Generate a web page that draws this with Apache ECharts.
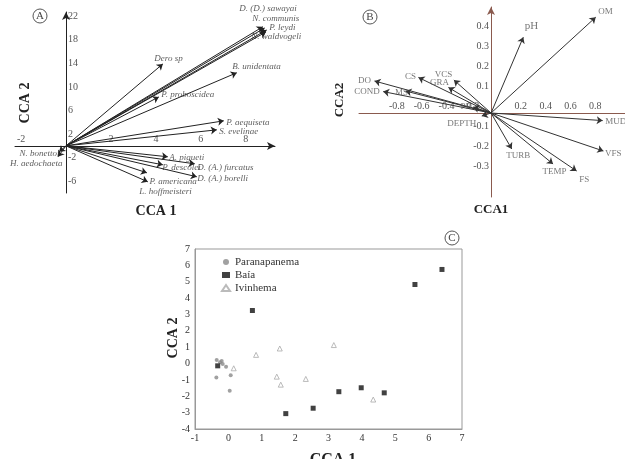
<!DOCTYPE html>
<html>
<head>
<meta charset="utf-8">
<script src="https://cdn.jsdelivr.net/npm/echarts@6/dist/echarts.min.js"></script>
<style>
  html, body { margin: 0; padding: 0; background: #fff; }
  #chart { width: 625px; height: 459px; }
</style>
</head>
<body>
<div id="chart"></div>
<script>
// panel A - species vectors
const speciesNames = ['D. (D.) sawayai', 'N. communis', 'P. leydi', 'N. waldvogeli', 'Dero sp', 'B. unidentata',
  'P. proboscidea', 'P. aequiseta', 'S. evelinae', 'N. bonettoi', 'H. aedochaeta', 'A. pigueti',
  'D. (A.) furcatus', 'P. descolei', 'D. (A.) borelli', 'P. americana', 'L. hoffmeisteri'];
const speciesX = [8.76, 8.84, 8.93, 8.89, 4.31, 7.6, 4.13, 7.02, 6.71, -0.31, -0.36, 4.53, 5.73, 4.31, 5.82, 3.6, 3.64];
const speciesY = [20.2, 20.0, 19.66, 19.3, 13.9, 12.4, 8.3, 4.24, 2.71, -1.02, -1.86, -1.86, -3.05, -3.22, -5.25, -4.58, -6.1];
const speciesTicksX = [-2, 2, 4, 6, 8];
const speciesTicksY = [-6, -2, 2, 6, 10, 14, 18, 22];

// panel B - environmental vectors
const envNames = ['OM', 'pH', 'MUD', 'VFS', 'FS', 'TEMP', 'TURB', 'DO', 'COND', 'MS', 'CS', 'VCS', 'GRA', 'PB', 'DEPTH'];
const envX = [0.844, 0.26, 0.90, 0.906, 0.69, 0.50, 0.167, -0.94, -0.87, -0.69, -0.586, -0.30, -0.344, -0.145, -0.075];
const envY = [0.479, 0.379, -0.038, -0.19, -0.29, -0.255, -0.18, 0.16, 0.107, 0.11, 0.178, 0.165, 0.128, 0.03, -0.015];
const envTicksX = [-0.8, -0.6, -0.4, -0.2, 0.2, 0.4, 0.6, 0.8];
const envTicksY = [-0.3, -0.2, -0.1, 0.1, 0.2, 0.3, 0.4];

// panel C - sample scores
const paranapanemaX = [-0.35, -0.2, -0.25, -0.17, -0.07, -0.36, 0.07, 0.04];
const paranapanemaY = [0.22, 0.15, 0.08, -0.03, -0.2, -0.86, -0.72, -1.66];
const baiaX = [-0.32, 0.72, 1.72, 2.54, 3.31, 3.98, 4.67, 5.59, 6.40];
const baiaY = [-0.14, 3.24, -3.06, -2.73, -1.72, -1.48, -1.79, 4.83, 5.75];
const ivinhemaX = [0.16, 0.83, 1.54, 3.16, 1.45, 1.57, 2.32, 4.34];
const ivinhemaY = [-0.29, 0.53, 0.92, 1.13, -0.8, -1.29, -0.94, -2.2];

// label offsets from arrow tip: [dx, dy, align]
const labelOffsets = {
  'D. (D.) sawayai': [-23, -18, 'left'], 'N. communis': [-12, -9, 'left'], 'P. leydi': [3, -2, 'left'],
  'N. waldvogeli': [-14, 5, 'left'], 'Dero sp': [-8, -5, 'left'], 'B. unidentata': [-4, -6, 'left'],
  'P. proboscidea': [3, -2, 'left'], 'P. aequiseta': [3, 2, 'left'], 'S. evelinae': [3, 2, 'left'],
  'N. bonettoi': [1, 2, 'right'], 'H. aedochaeta': [5, 7, 'right'], 'A. pigueti': [2, 1, 'left'],
  'D. (A.) furcatus': [3, 4, 'left'], 'P. descolei': [0, 3, 'left'], 'D. (A.) borelli': [1, 2, 'left'],
  'P. americana': [3, 9, 'left'], 'L. hoffmeisteri': [-8, 10, 'left'],
  'OM': [3, -5, 'left'], 'pH': [2, -11, 'left'], 'MUD': [3, 2, 'left'], 'VFS': [2, 3, 'left'],
  'FS': [3, 9, 'left'], 'TEMP': [-10, 8, 'left'], 'TURB': [-5, 7, 'left'], 'DO': [-3, 0, 'right'],
  'COND': [-3, 1, 'right'], 'MS': [-10, 2, 'left'], 'CS': [-2, 0, 'right'], 'VCS': [-1, -5, 'right'],
  'GRA': [1, -4, 'right'], 'PB': [-1, 0, 'right'], 'DEPTH': [-5, 8, 'right']
};

const serif = '"Liberation Serif", "DejaVu Serif", serif';

function arrows(xs, ys, idx, color) {
  return {
    type: 'lines',
    coordinateSystem: 'cartesian2d',
    xAxisIndex: idx,
    yAxisIndex: idx,
    symbol: ['none', 'arrow'],
    symbolSize: 6,
    silent: true,
    lineStyle: { color: color, width: 1, opacity: 1 },
    data: xs.map((x, i) => ({ coords: [[0, 0], [x, ys[i]]] }))
  };
}

function tipLabels(names, xs, ys, idx, style) {
  return {
    type: 'scatter',
    xAxisIndex: idx,
    yAxisIndex: idx,
    symbolSize: 1,
    silent: true,
    itemStyle: { color: 'transparent' },
    data: names.map((n, i) => {
      const o = labelOffsets[n];
      return {
        value: [xs[i], ys[i]],
        label: {
          show: true,
          formatter: n,
          position: [o[0], o[1]],
          align: o[2],
          verticalAlign: 'middle',
          fontFamily: serif,
          fontSize: n === 'pH' ? 11 : style.fontSize,
          fontStyle: style.fontStyle,
          color: style.color
        }
      };
    })
  };
}

// axis moved onto the origin with offset (negative = into the grid)
function crossAxis(idx, min, max, ticks, color, arrow, inside, offset, labelExtra) {
  return {
    type: 'value',
    gridIndex: idx,
    min: min,
    max: max,
    offset: offset,
    axisLine: {
      onZero: false,
      symbol: arrow ? ['none', 'arrow'] : 'none',
      symbolSize: [6, 8],
      lineStyle: { color: color, width: 1 }
    },
    axisTick: { show: false },
    splitLine: { show: false },
    axisLabel: Object.assign({
      inside: inside,
      customValues: ticks,
      margin: 2,
      fontFamily: serif,
      fontSize: 10,
      color: '#555'
    }, labelExtra)
  };
}

const chart = echarts.init(document.getElementById('chart'));

function circleTag(letter, cx, cy) {
  return [
    { type: 'circle', shape: { cx: cx, cy: cy, r: 7 }, style: { fill: '#fff', stroke: '#555', lineWidth: 1 } },
    { type: 'text', x: cx, y: cy, style: { text: letter, align: 'center', verticalAlign: 'middle',
      font: '11px ' + serif, fill: '#444' } }
  ];
}

function axisTitle(text, x, y, size, vertical) {
  return {
    type: 'text', x: x, y: y, rotation: vertical ? Math.PI / 2 : 0,
    style: { text: text, align: 'center', verticalAlign: 'middle', font: 'bold ' + size + 'px ' + serif, fill: '#222' }
  };
}

const option = {
  animation: false,
  backgroundColor: '#fff',
  grid: [
    { left: 15, top: 12, width: 260, height: 181 },
    { left: 359, top: 7, width: 266, height: 190 },
    { left: 195, top: 249, width: 267, height: 180, show: true, borderColor: '#999', borderWidth: 1 }
  ],
  xAxis: [
    crossAxis(0, -2.27, 9.3, speciesTicksX, '#222', true, true, -47, {}),
    crossAxis(1, -1.065, 1.08, envTicksX, '#8a5a4e', false, true, -84, { padding: [0, 0, 0, 10] }),
    {
      type: 'value', gridIndex: 2, min: -1, max: 7, interval: 1,
      axisLine: { onZero: false, lineStyle: { color: '#999' } },
      axisTick: { show: false }, splitLine: { show: false },
      axisLabel: { fontFamily: serif, fontSize: 10, color: '#333', margin: 4 }
    }
  ],
  yAxis: [
    crossAxis(0, -8, 22.7, speciesTicksY, '#222', true, true, -51, {}),
    crossAxis(1, -0.42, 0.53, envTicksY, '#8a5a4e', true, false, -132, { verticalAlign: 'bottom', lineHeight: 14 }),
    {
      type: 'value', gridIndex: 2, min: -4, max: 7, interval: 1,
      axisLine: { onZero: false, lineStyle: { color: '#999' } },
      axisTick: { show: false }, splitLine: { show: false },
      axisLabel: { fontFamily: serif, fontSize: 10, color: '#333', margin: 5 }
    }
  ],
  legend: {
    left: 216, top: 251, orient: 'vertical', itemGap: 1, itemWidth: 8, itemHeight: 6,
    textStyle: { fontFamily: serif, fontSize: 11, color: '#333', lineHeight: 12 },
    data: ['Paranapanema', 'Baía', 'Ivinhema']
  },
  series: [
    arrows(speciesX, speciesY, 0, '#222'),
    tipLabels(speciesNames, speciesX, speciesY, 0, { fontSize: 9, fontStyle: 'italic', color: '#333' }),
    arrows(envX, envY, 1, '#333'),
    tipLabels(envNames, envX, envY, 1, { fontSize: 9, fontStyle: 'normal', color: '#555' }),
    {
      name: 'Paranapanema', type: 'scatter', xAxisIndex: 2, yAxisIndex: 2,
      symbol: 'circle', symbolSize: 4, itemStyle: { color: '#8a8a8a' },
      data: paranapanemaX.map((x, i) => [x, paranapanemaY[i]])
    },
    {
      name: 'Baía', type: 'scatter', xAxisIndex: 2, yAxisIndex: 2,
      symbol: 'rect', symbolSize: 5, itemStyle: { color: '#111' },
      data: baiaX.map((x, i) => [x, baiaY[i]])
    },
    {
      name: 'Ivinhema', type: 'scatter', xAxisIndex: 2, yAxisIndex: 2,
      symbol: 'triangle', symbolSize: 5, itemStyle: { color: '#fff', borderColor: '#aaa', borderWidth: 1 },
      data: ivinhemaX.map((x, i) => [x, ivinhemaY[i]])
    }
  ],
  graphic: [
    ...circleTag('A', 40, 16),
    ...circleTag('B', 370, 17),
    ...circleTag('C', 452, 238),
    axisTitle('CCA 1', 156, 211, 14, false),
    axisTitle('CCA 2', 25, 103, 14, true),
    axisTitle('CCA1', 491, 210, 13, false),
    axisTitle('CCA2', 340, 100, 13, true),
    axisTitle('CCA 2', 173, 338, 14, true),
    axisTitle('CCA 1', 333, 460, 16, false)
  ]
};

chart.setOption(option);
</script>
</body>
</html>
